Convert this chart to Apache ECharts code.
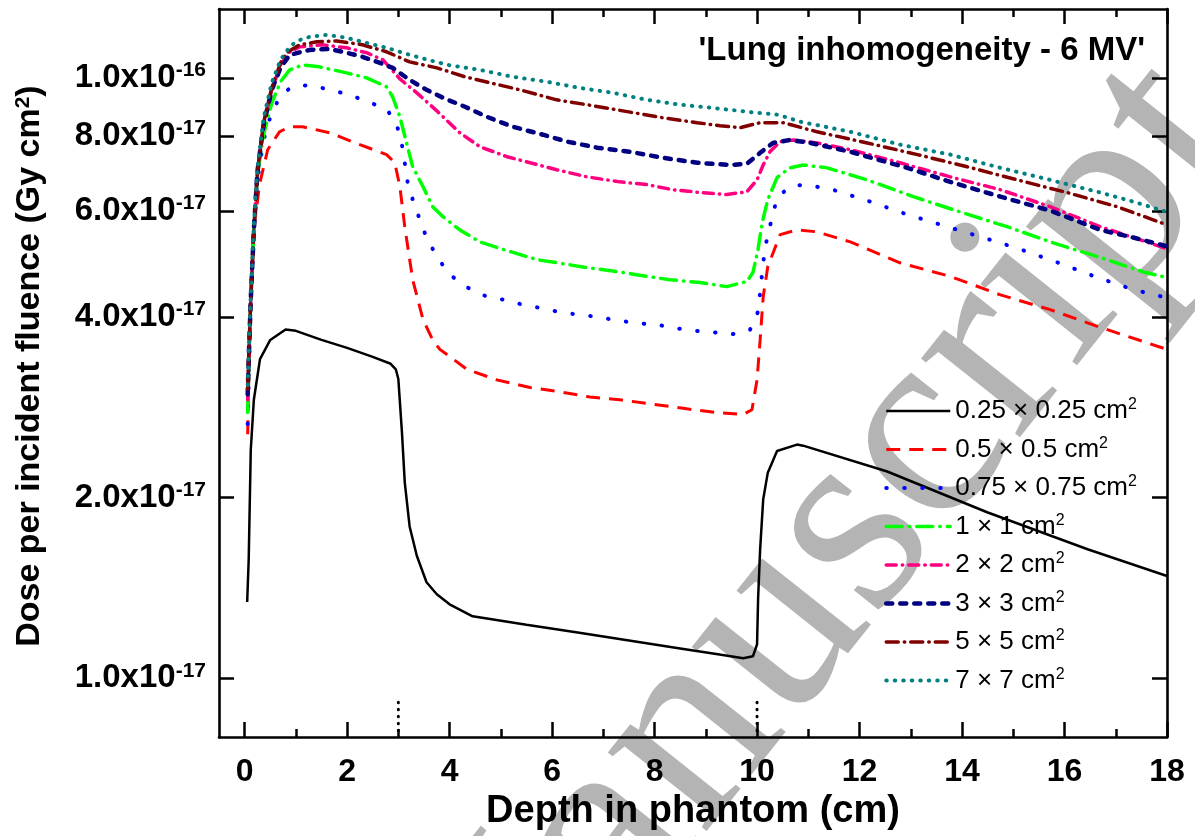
<!DOCTYPE html>
<html>
<head>
<meta charset="utf-8">
<script src="https://cdn.jsdelivr.net/npm/echarts@6/dist/echarts.min.js"></script>
<style>html,body{margin:0;padding:0;background:#fff;}#c{width:1195px;height:836px;}</style>
</head>
<body>
<div id="c"></div>
<script>
// Values in units of 1e-17 Gy cm^2; x = depth (cm)
const seriesNames = ['0.25 × 0.25 cm', '0.5 × 0.5 cm', '0.75 × 0.75 cm', '1 × 1 cm', '2 × 2 cm', '3 × 3 cm', '5 × 5 cm', '7 × 7 cm'];
const seriesColors = ['#000000', '#ff0000', '#0000ff', '#00ff00', '#ff0080', '#000080', '#800000', '#008080'];

const d025 = [[0.05,1.34],[0.08,1.58],[0.12,2.4],[0.18,2.91],[0.3,3.40],[0.5,3.66],[0.8,3.81],[1.0,3.79],[1.5,3.66],[2.0,3.55],[2.5,3.43],[2.85,3.34],[2.95,3.27],[3.0,3.15],[3.07,2.57],[3.125,2.12],[3.22,1.79],[3.36,1.60],[3.55,1.445],[3.75,1.38],[4.0,1.328],[4.45,1.268],[5.5,1.228],[6.5,1.192],[7.5,1.156],[8.5,1.121],[9.3,1.094],[9.73,1.08],[9.92,1.088],[10.0,1.139],[10.02,1.353],[10.06,1.639],[10.12,1.986],[10.21,2.20],[10.39,2.39],[10.78,2.45],[10.9,2.44],[12.54,2.21],[14.49,1.89],[16.45,1.64],[18.0,1.48]];
const d05 = [[0.06,2.55],[0.08,3.14],[0.12,4.27],[0.18,5.58],[0.29,6.64],[0.45,7.59],[0.68,8.13],[0.88,8.29],[1.13,8.29],[1.66,8.10],[2.25,7.74],[2.77,7.45],[2.93,7.22],[3.03,6.59],[3.125,5.65],[3.28,4.61],[3.48,3.96],[3.67,3.66],[3.81,3.53],[4.34,3.27],[4.92,3.14],[5.57,3.05],[6.15,3.0],[6.74,2.94],[7.32,2.91],[7.97,2.86],[8.63,2.81],[9.22,2.77],[9.73,2.75],[9.9,2.80],[10.0,3.14],[10.06,3.66],[10.12,4.32],[10.21,4.85],[10.45,5.48],[10.78,5.58],[11.17,5.54],[11.82,5.33],[12.79,4.92],[13.77,4.67],[14.75,4.35],[15.72,4.11],[16.7,3.84],[18.0,3.53]];
const d075 = [[0.06,2.65],[0.08,3.14],[0.12,4.27],[0.18,5.58],[0.25,6.77],[0.37,7.88],[0.53,8.78],[0.72,9.37],[0.92,9.66],[1.27,9.73],[1.66,9.55],[2.05,9.37],[2.4,9.12],[2.77,8.88],[2.97,8.35],[3.07,7.74],[3.125,7.22],[3.18,6.71],[3.28,6.27],[3.42,5.80],[3.55,5.42],[3.75,5.04],[4.0,4.70],[4.36,4.47],[4.73,4.32],[5.12,4.26],[5.47,4.18],[5.82,4.13],[6.21,4.06],[6.58,4.03],[6.93,3.99],[7.32,3.94],[7.68,3.90],[8.05,3.88],[8.40,3.83],[8.79,3.79],[9.14,3.77],[9.51,3.74],[9.86,3.80],[10.02,4.08],[10.06,4.39],[10.1,4.74],[10.14,5.08],[10.2,5.44],[10.39,6.31],[10.64,6.59],[10.94,6.64],[11.48,6.51],[12.21,6.22],[12.93,5.92],[13.71,5.65],[14.41,5.42],[15.14,5.18],[15.88,4.92],[16.64,4.65],[17.34,4.44],[18.0,4.30]];
const d1 = [[0.06,2.77],[0.08,3.27],[0.12,4.27],[0.18,5.58],[0.25,6.90],[0.37,8.04],[0.53,9.08],[0.70,9.85],[0.88,10.31],[1.13,10.51],[1.46,10.43],[1.99,10.19],[2.38,10.0],[2.77,9.66],[2.89,9.29],[3.03,8.61],[3.16,7.79],[3.28,7.11],[3.48,6.59],[3.67,6.10],[3.87,5.87],[4.2,5.58],[4.59,5.33],[5.04,5.18],[5.70,4.98],[6.29,4.89],[6.68,4.83],[7.32,4.75],[7.85,4.67],[8.30,4.61],[8.89,4.56],[9.41,4.49],[9.80,4.58],[9.92,4.74],[10.02,5.18],[10.1,5.74],[10.21,6.27],[10.39,6.82],[10.64,7.08],[10.9,7.16],[11.37,7.08],[12.15,6.76],[13.05,6.34],[13.96,5.98],[14.88,5.65],[15.78,5.31],[16.7,5.02],[17.54,4.75],[18.0,4.65]];
const d2 = [[0.06,2.91],[0.08,3.40],[0.12,4.27],[0.18,5.58],[0.25,6.98],[0.37,8.35],[0.53,9.55],[0.70,10.51],[0.88,11.04],[1.07,11.26],[1.52,11.35],[1.99,11.22],[2.38,11.01],[2.70,10.71],[3.03,9.96],[3.36,9.44],[3.75,8.81],[4.2,8.10],[4.59,7.68],[5.12,7.39],[5.57,7.22],[6.09,7.03],[6.68,6.84],[7.32,6.71],[7.85,6.64],[8.36,6.51],[8.89,6.44],[9.41,6.39],[9.80,6.46],[10.0,6.76],[10.12,7.16],[10.25,7.53],[10.45,7.83],[10.70,7.88],[11.17,7.79],[11.82,7.59],[12.79,7.22],[13.77,6.84],[14.75,6.51],[15.72,6.10],[16.7,5.65],[17.34,5.42],[18.0,5.19]];
const d3 = [[0.06,2.97],[0.08,3.40],[0.12,4.27],[0.18,5.58],[0.25,6.98],[0.37,8.35],[0.53,9.55],[0.70,10.39],[0.88,10.92],[1.27,11.13],[1.66,11.17],[1.99,11.01],[2.30,10.84],[2.64,10.59],[2.89,10.39],[3.22,9.92],[3.55,9.55],[3.91,9.23],[4.30,8.95],[4.73,8.61],[5.23,8.29],[5.82,8.04],[6.29,7.83],[6.88,7.65],[7.52,7.53],[8.16,7.36],[8.83,7.22],[9.47,7.16],[9.80,7.19],[10.06,7.50],[10.31,7.79],[10.64,7.88],[11.04,7.79],[11.82,7.53],[12.93,7.08],[13.77,6.71],[14.75,6.34],[15.72,6.01],[16.7,5.58],[17.34,5.42],[18.0,5.24]];
const d5 = [[0.06,3.03],[0.08,3.46],[0.12,4.27],[0.18,5.58],[0.25,6.98],[0.37,8.42],[0.53,9.62],[0.70,10.59],[0.82,11.01],[1.07,11.35],[1.41,11.48],[1.80,11.52],[2.30,11.35],[2.77,11.05],[3.22,10.63],[3.75,10.39],[4.30,10.04],[4.79,9.81],[5.37,9.55],[6.09,9.19],[6.68,9.02],[7.58,8.75],[8.16,8.58],[8.83,8.42],[9.28,8.32],[9.67,8.26],[10.06,8.42],[10.51,8.42],[11.17,8.13],[12.15,7.79],[13.13,7.45],[14.10,7.11],[15.08,6.76],[16.05,6.44],[17.03,6.10],[18.0,5.69]];
const d7 = [[0.06,3.08],[0.08,3.53],[0.12,4.35],[0.18,5.69],[0.25,7.08],[0.37,8.58],[0.53,9.81],[0.70,10.71],[0.88,11.26],[1.02,11.52],[1.27,11.70],[1.60,11.79],[1.99,11.66],[2.38,11.43],[2.77,11.22],[3.22,10.92],[3.95,10.51],[4.59,10.31],[5.23,10.04],[5.90,9.85],[6.54,9.62],[7.19,9.44],[7.85,9.19],[8.50,9.02],[9.14,8.91],[9.80,8.78],[10.41,8.68],[10.84,8.45],[11.82,8.13],[12.79,7.74],[13.77,7.45],[14.75,7.08],[15.72,6.76],[16.7,6.44],[17.34,6.22],[18.0,5.98]];

const xTickMajor = [0, 2, 4, 6, 8, 10, 12, 14, 16, 18];
const xTickMinor = [1, 3, 5, 7, 9, 11, 13, 15, 17];
const yTickVals = [1, 2, 4, 6, 8, 10];
const yTickMant = ['1.0', '2.0', '4.0', '6.0', '8.0', '1.0'];
const yTickExp = ['-17', '-17', '-17', '-17', '-17', '-16'];
const interfaceDepths = [3, 10];

const allData = [d025, d05, d075, d1, d2, d3, d5, d7];
const lineStyles = [
  {width: 2.5, type: 'solid'},
  {width: 3, type: [14, 9]},
  {width: 4, type: [0.5, 17.5], cap: 'round'},
  {width: 3.5, type: [16, 7, 0.5, 7], cap: 'round'},
  {width: 3.5, type: [10, 6, 0.5, 6], cap: 'round'},
  {width: 4.5, type: [6, 8], cap: 'round'},
  {width: 3.5, type: [12, 6, 0.5, 6], cap: 'round'},
  {width: 4, type: [0.5, 8], cap: 'round'}
];

const FONT = '"Liberation Sans", Arial, sans-serif';
const X_MIN = -0.5, X_MAX = 18, Y_MIN = 0.798, Y_MAX = 13.02;

const chart = echarts.init(document.getElementById('c'), null, {renderer: 'canvas'});

function yLabel(v) {
  let best = 0;
  for (let i = 0; i < yTickVals.length; i++) {
    if (Math.abs(yTickVals[i] - v) < Math.abs(yTickVals[best] - v)) best = i;
  }
  return '{m|' + yTickMant[best] + 'x10}{e|' + yTickExp[best] + '}';
}

const axisLineStyle = {color: '#000', width: 2.6};

const series = allData.map((d, i) => ({
  name: seriesNames[i],
  type: 'line',
  data: d,
  symbol: 'none',
  smooth: false,
  z: 3 + i,
  lineStyle: Object.assign({color: seriesColors[i]}, lineStyles[i]),
  itemStyle: {color: seriesColors[i]},
  emphasis: {disabled: true},
  animation: false
}));

interfaceDepths.forEach((xv, k) => {
  series.push({
    name: 'interface' + k,
    type: 'line',
    data: [[xv, 0.912], [xv, Y_MIN]],
    symbol: 'none',
    lineStyle: {color: '#000', width: 3, type: [0.5, 6.5], cap: 'round'},
    z: 2,
    animation: false,
    silent: true
  });
});

const legendData = seriesNames.map((n, i) => ({
  name: n,
  icon: 'inherit',
  itemStyle: {opacity: 0, borderWidth: 0},
  lineStyle: Object.assign({color: seriesColors[i]}, lineStyles[i])
}));

const option = {
  backgroundColor: '#fff',
  animation: false,
  textStyle: {fontFamily: FONT},
  title: {
    text: "'Lung inhomogeneity - 6 MV'",
    right: 45, top: 29,
    textStyle: {fontFamily: FONT, fontWeight: 'bold', fontSize: 33, color: '#000'}
  },
  grid: {left: 219, right: 28, top: 9, bottom: 98, containLabel: false},
  legend: {
    data: legendData,
    orient: 'vertical',
    left: 879, top: 392,
    itemWidth: 64, itemHeight: 14, itemGap: 10.5,
    icon: 'inherit',
    itemStyle: {opacity: 0, borderWidth: 0},
    formatter: (n) => n + '{s|2}',
    textStyle: {fontFamily: FONT, fontSize: 26, color: '#000', lineHeight: 28,
      rich: {s: {fontFamily: FONT, fontSize: 16, verticalAlign: 'top', lineHeight: 28, color: '#000'}}},
    selectedMode: false
  },
  xAxis: [
    {
      type: 'value', min: X_MIN, max: X_MAX, position: 'bottom',
      axisLine: {show: true, onZero: false, lineStyle: axisLineStyle},
      axisTick: {show: true, inside: true, length: 15, lineStyle: {width: 2.5, color: '#000'}, customValues: xTickMajor},
      axisLabel: {show: true, customValues: xTickMajor, margin: 19, fontFamily: FONT, fontWeight: 'bold', fontSize: 32, color: '#000'},
      splitLine: {show: false},
      name: 'Depth in phantom (cm)', nameLocation: 'middle', nameGap: 68,
      nameTextStyle: {fontFamily: FONT, fontWeight: 'bold', fontSize: 38, color: '#000', verticalAlign: 'middle'}
    },
    {
      type: 'value', min: X_MIN, max: X_MAX, position: 'bottom',
      axisLine: {show: false, onZero: false},
      axisTick: {show: true, inside: true, length: 8, lineStyle: {width: 2.5, color: '#000'}, customValues: xTickMinor},
      axisLabel: {show: false, customValues: xTickMinor},
      splitLine: {show: false}
    },
    {
      type: 'value', min: X_MIN, max: X_MAX, position: 'top',
      axisLine: {show: true, onZero: false, lineStyle: axisLineStyle},
      axisTick: {show: true, inside: true, length: 15, lineStyle: {width: 2.5, color: '#000'}, customValues: xTickMajor},
      axisLabel: {show: false, customValues: xTickMajor},
      splitLine: {show: false}
    },
    {
      type: 'value', min: X_MIN, max: X_MAX, position: 'top',
      axisLine: {show: false, onZero: false},
      axisTick: {show: true, inside: true, length: 8, lineStyle: {width: 2.5, color: '#000'}, customValues: xTickMinor},
      axisLabel: {show: false, customValues: xTickMinor},
      splitLine: {show: false}
    }
  ],
  yAxis: [
    {
      type: 'log', logBase: 10, min: Y_MIN, max: Y_MAX, position: 'left',
      axisLine: {show: true, onZero: false, lineStyle: axisLineStyle},
      axisTick: {show: true, inside: true, length: 15, lineStyle: {width: 2.5, color: '#000'}, customValues: yTickVals},
      axisLabel: {show: true, customValues: yTickVals, margin: 13, formatter: yLabel,
        rich: {
          m: {fontFamily: FONT, fontWeight: 'bold', fontSize: 33, color: '#000', lineHeight: 36},
          e: {fontFamily: FONT, fontWeight: 'bold', fontSize: 21, color: '#000', verticalAlign: 'top', lineHeight: 36}
        }},
      minorTick: {show: false},
      splitLine: {show: false},
      name: 'Dose per incident fluence (Gy cm{s|2})', nameLocation: 'middle', nameGap: 189,
      nameTextStyle: {fontFamily: FONT, fontWeight: 'bold', fontSize: 34, color: '#000', verticalAlign: 'middle',
        padding: [0, 0, 0, 14],
        rich: {s: {fontFamily: FONT, fontWeight: 'bold', fontSize: 21, color: '#000', verticalAlign: 'top'}}}
    },
    {
      type: 'log', logBase: 10, min: Y_MIN, max: Y_MAX, position: 'right',
      axisLine: {show: true, onZero: false, lineStyle: axisLineStyle},
      axisTick: {show: true, inside: true, length: 15, lineStyle: {width: 2.5, color: '#000'}, customValues: yTickVals},
      axisLabel: {show: false, customValues: yTickVals},
      minorTick: {show: false},
      splitLine: {show: false}
    }
  ],
  graphic: [{
    type: 'text',
    x: 418, y: 1078,
    rotation: 0.899,
    z: -10,
    silent: true,
    style: {text: 'Manuscript', font: '275px "Liberation Serif", "Times New Roman", serif', fill: '#b4b4b4', align: 'left', verticalAlign: 'middle'}
  }],
  series: series
};

chart.setOption(option);
</script>
</body>
</html>
